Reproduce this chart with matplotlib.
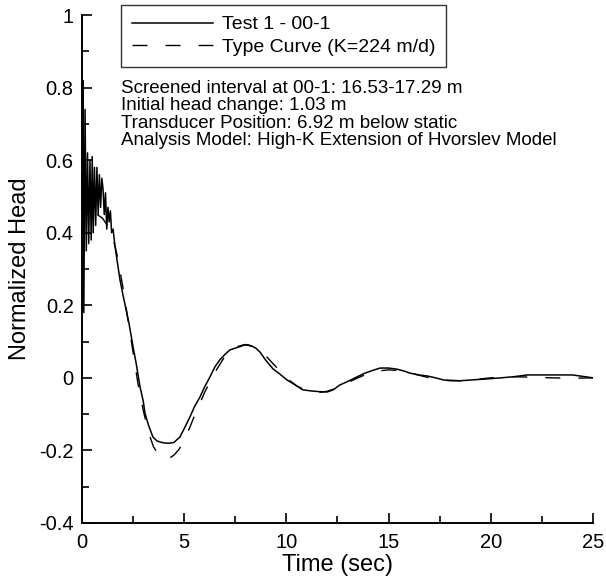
import matplotlib
matplotlib.use("Agg")
import matplotlib.pyplot as plt
from matplotlib.ticker import MultipleLocator, FuncFormatter

plt.rcParams["font.family"] = ["Liberation Sans", "DejaVu Sans"]
plt.rcParams["axes.unicode_minus"] = False

obs_t = [0.0, 0.04, 0.09, 0.15, 0.21, 0.27, 0.33, 0.39, 0.45, 0.5, 0.55, 0.61,
         0.67, 0.73, 0.79, 0.85, 0.91, 0.97, 1.03, 1.09, 1.15, 1.21, 1.27, 1.33,
         1.39, 1.45, 1.52, 1.6, 1.7, 1.86, 2.0, 2.15, 2.3, 2.5, 2.65, 2.84,
         3.0, 3.08, 3.25, 3.47, 3.67, 3.9, 4.1, 4.3, 4.5, 4.79, 5.0, 5.28,
         5.5, 5.77, 6.0, 6.26, 6.5, 6.75, 7.0, 7.24, 7.5, 7.73, 7.9, 8.12,
         8.3, 8.5, 8.71, 9.0, 9.34, 9.69, 10.03, 10.3, 10.8, 11.2, 11.6, 11.99,
         12.3, 12.6, 13.0, 13.45, 13.8, 14.2, 14.58, 15.0, 15.41, 15.8, 16.05,
         16.5, 16.9, 17.3, 17.7, 18.1, 18.5, 19.0, 19.8, 20.5, 21.1, 21.8,
         22.5, 23.2, 24.0, 24.5, 25.0]
obs_h = [0.45, 0.82, 0.18, 0.74, 0.35, 0.62, 0.37, 0.60, 0.38, 0.61, 0.40, 0.58,
         0.42, 0.58, 0.45, 0.56, 0.47, 0.55, 0.52, 0.45, 0.51, 0.41, 0.47, 0.43,
         0.46, 0.40, 0.41, 0.37, 0.33, 0.27, 0.23, 0.19, 0.15, 0.085, 0.04, -0.025,
         -0.065, -0.097, -0.13, -0.163, -0.174, -0.178, -0.18, -0.18, -0.178, -0.163, -0.14, -0.108,
         -0.08, -0.053, -0.025, 0.0025, 0.03, 0.05, 0.065, 0.077, 0.082, 0.086, 0.09, 0.091,
         0.088, 0.082, 0.071, 0.048, 0.025, 0.01, -0.006, -0.015, -0.033, -0.036, -0.038, -0.039,
         -0.033, -0.02, -0.01, 0.0025, 0.012, 0.02, 0.027, 0.027, 0.024, 0.018, 0.013,
         0.008, 0.005, 0.0, -0.006, -0.007, -0.008, -0.006, -0.003, 0.0, 0.003, 0.008,
         0.008, 0.008, 0.008, 0.004, 0.0]

# fitted type curve
fit_t = [0.75, 1.0, 1.25, 1.5, 1.75, 2.0, 2.25, 2.5, 2.75, 3.0, 3.25, 3.5, 3.75,
         4.0, 4.25, 4.5, 4.75, 5.0, 5.25, 5.5, 6.0, 6.5, 7.0, 7.5, 8.0, 8.5, 9.0,
         9.5, 10.0, 10.5, 11.0, 11.5, 12.0, 12.5, 13.0, 13.5, 14.0, 14.5, 15.0,
         15.5, 16.0, 16.5, 17.0, 17.5, 18.0, 18.5, 19.0, 19.5, 20.0, 21.0, 22.0,
         23.0, 24.0, 25.0]
fit_h = [0.45, 0.44, 0.42, 0.39, 0.33, 0.25, 0.16, 0.07, -0.02, -0.09, -0.15, -0.19, -0.213,
         -0.222, -0.222, -0.213, -0.197, -0.17, -0.14, -0.105, -0.04, 0.015, 0.06, 0.085, 0.092, 0.083, 0.06,
         0.03, 0.0, -0.022, -0.036, -0.041, -0.037, -0.027, -0.013, 0.0, 0.012, 0.019, 0.022,
         0.02, 0.014, 0.007, 0.0, -0.005, -0.008, -0.008, -0.006, -0.003, 0.0, 0.003, 0.002,
         0.0, -0.001, 0.0]

info_lines = [
    "Screened interval at 00-1: 16.53-17.29 m",
    "Initial head change: 1.03 m",
    "Transducer Position: 6.92 m below static",
    "Analysis Model: High-K Extension of Hvorslev Model",
]

fig = plt.figure(figsize=(6.06, 5.78), dpi=100)
ax = fig.add_axes([0.1353, 0.0952, 0.8432, 0.8788])

ax.plot(obs_t, obs_h, color="black", lw=1.1, label="Test 1 - 00-1")
ax.plot(fit_t, fit_h, color="black", lw=1.0, dashes=(10.8, 13),
        label="Type Curve (K=224 m/d)")

ax.set_xlim(0, 25)
ax.set_ylim(-0.4, 1.0)
ax.xaxis.set_major_locator(MultipleLocator(5))
ax.xaxis.set_minor_locator(MultipleLocator(2.5))
ax.yaxis.set_major_locator(MultipleLocator(0.2))
ax.yaxis.set_minor_locator(MultipleLocator(0.1))
ax.yaxis.set_major_formatter(FuncFormatter(lambda v, p: f"{v:g}" if abs(v) > 1e-9 else "0"))
ax.tick_params(which="both", direction="in", width=1.2, labelsize=14.5)
ax.tick_params(axis="y", pad=6)
ax.tick_params(axis="x", pad=7)
ax.tick_params(which="major", length=7)
ax.tick_params(which="minor", length=5)
for side in ("top", "right"):
    ax.spines[side].set_visible(False)
for side in ("left", "bottom"):
    ax.spines[side].set_linewidth(1.4)

ax.set_xlabel("Time (sec)", fontsize=17, labelpad=2)
ax.set_ylabel("Normalized Head", fontsize=17, labelpad=6)

leg = ax.legend(loc="upper left", bbox_to_anchor=(0.0763, 1.0197), fontsize=14,
                frameon=True, fancybox=False, edgecolor="black", handlelength=4.2,
                handletextpad=0.45, borderpad=0.55, labelspacing=0.27,
                borderaxespad=0.0)
leg.get_frame().set_linewidth(1.0)
leg.set_clip_on(False)

ax.text(0.0763, 0.872, "\n".join(info_lines), transform=ax.transAxes,
        fontsize=13.5, va="top", ha="left", linespacing=1.03)

fig.savefig("out.png", dpi=100)
